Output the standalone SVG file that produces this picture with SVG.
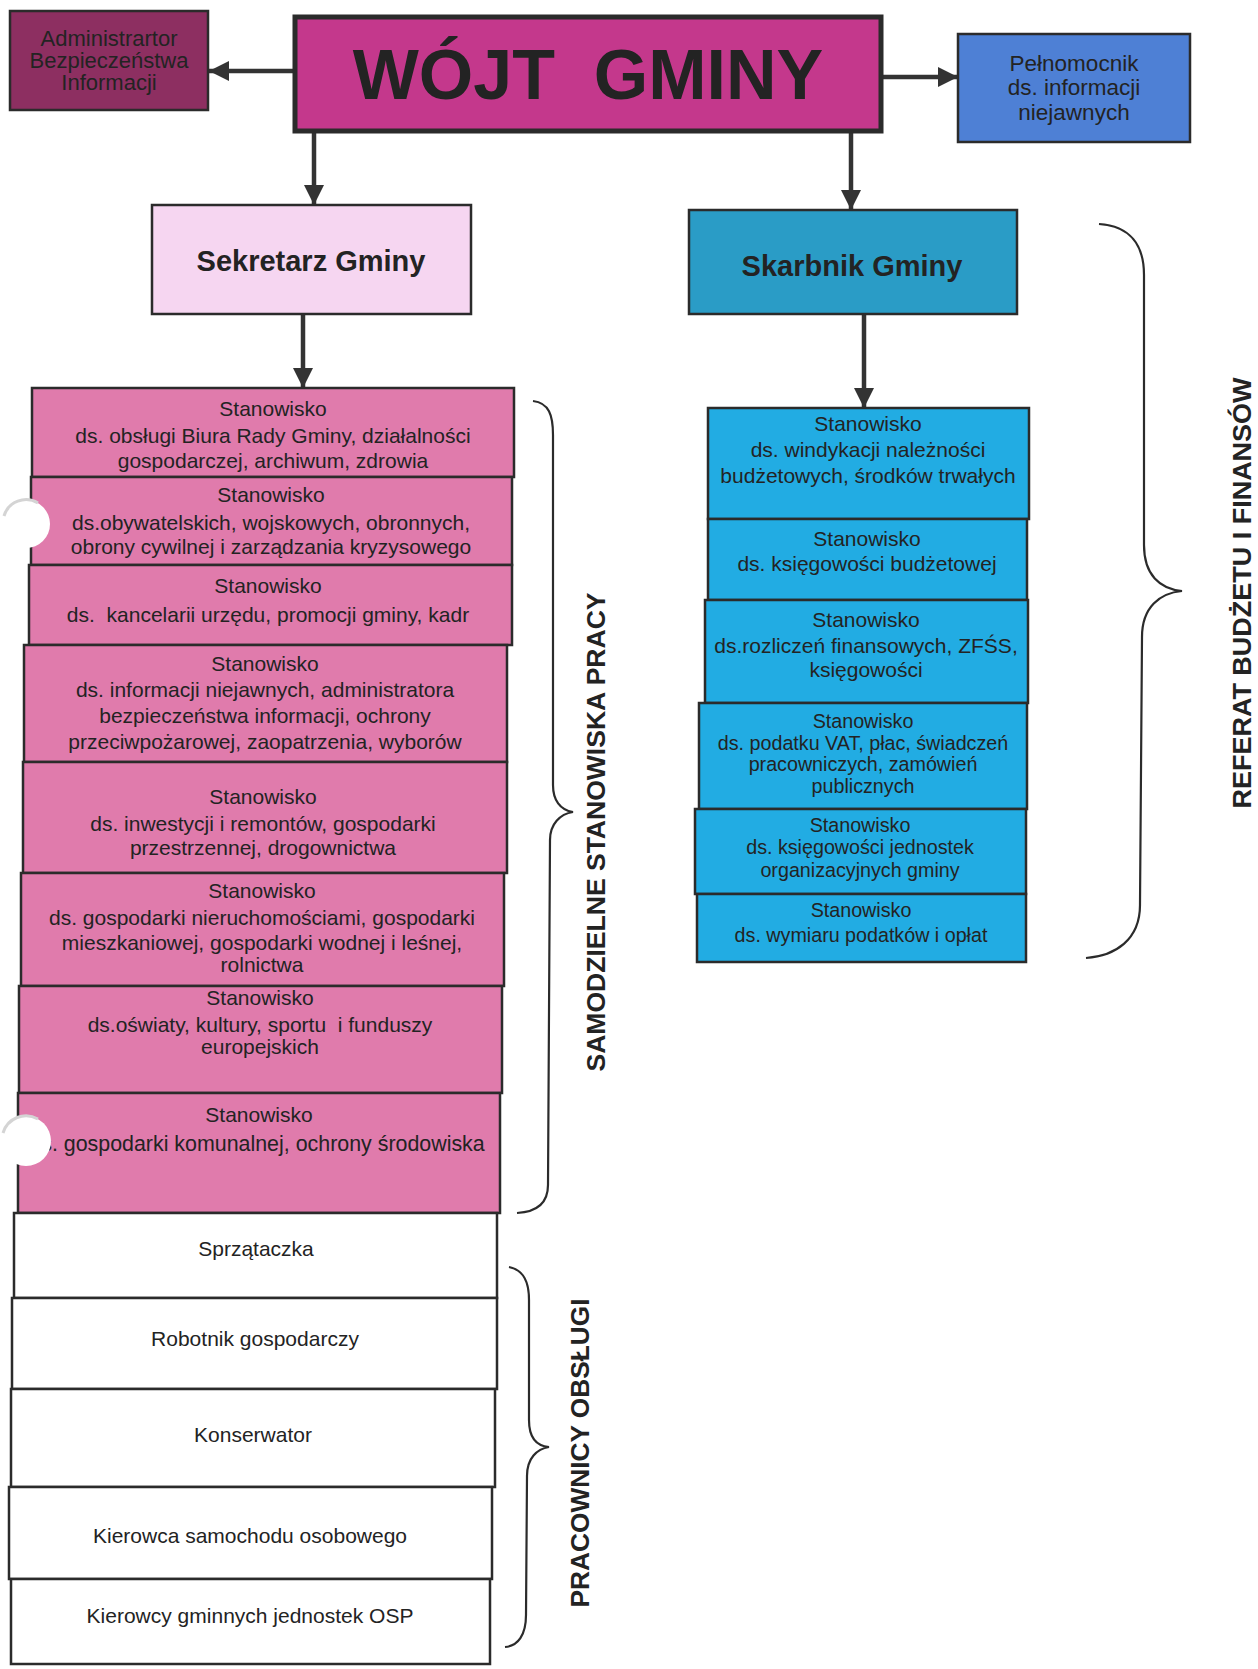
<svg xmlns="http://www.w3.org/2000/svg" width="1258" height="1669" viewBox="0 0 1258 1669">
<style>
.bx{stroke:#2b2b2b;stroke-width:2.5}
.t{font-family:"Liberation Sans",Arial,sans-serif;fill:#232323;text-anchor:middle;white-space:pre}
.p{font-size:21px}
.s{font-size:19.7px}
.w{font-size:21px}
.b{font-weight:bold}
.pink{fill:#E07BAC}
.blue{fill:#22ACE3}
.white{fill:#ffffff}
.conn{stroke:#333;stroke-width:4.5;fill:none}
.brace{stroke:#2b2b2b;stroke-width:2.2;fill:none}
.hole{fill:#ffffff;stroke:none}
.shade{fill:none;stroke:#d4d4d4;stroke-width:3}
</style>
<defs>
<marker id="ah" viewBox="0 0 20 20" markerWidth="20" markerHeight="20" refX="20" refY="10" orient="auto" markerUnits="userSpaceOnUse">
<path d="M0,0 L20,10 L0,20 z" fill="#333"/>
</marker>
</defs>
<rect width="1258" height="1669" fill="#ffffff"/>

<g id="connectors">
<line class="conn" x1="295" y1="71" x2="209" y2="71" marker-end="url(#ah)"/>
<line class="conn" x1="881" y1="77" x2="958" y2="77" marker-end="url(#ah)"/>
<line class="conn" x1="314" y1="133" x2="314" y2="205" marker-end="url(#ah)"/>
<line class="conn" x1="851" y1="133" x2="851" y2="210" marker-end="url(#ah)"/>
<line class="conn" x1="303" y1="314" x2="303" y2="388" marker-end="url(#ah)"/>
<line class="conn" x1="864" y1="314" x2="864" y2="408" marker-end="url(#ah)"/>
</g>

<g id="wojt">
<rect class="bx" x="295" y="17" width="586" height="114" fill="#C4388C" style="stroke-width:5"/>
<text class="t b" x="588" y="99" style="font-size:70px">WÓJT  GMINY</text>
</g>
<g id="admin">
<rect class="bx" x="10" y="11" width="198" height="99" fill="#8D2F61"/>
<text class="t" x="109" y="46" style="font-size:22px">Administrartor</text>
<text class="t" x="109" y="68" style="font-size:22px">Bezpieczeństwa</text>
<text class="t" x="109" y="90" style="font-size:22px">Informacji</text>
</g>
<g id="pelnomocnik">
<rect class="bx" x="958" y="34" width="232" height="108" fill="#4E80D5"/>
<text class="t" x="1074" y="71" style="font-size:22.5px">Pełnomocnik</text>
<text class="t" x="1074" y="95" style="font-size:22.5px">ds. informacji</text>
<text class="t" x="1074" y="120" style="font-size:22.5px">niejawnych</text>
</g>
<g id="sekretarz">
<rect class="bx" x="152" y="205" width="319" height="109" fill="#F6D6F1"/>
<text class="t b" x="311" y="271" style="font-size:29px">Sekretarz Gminy</text>
</g>
<g id="skarbnik">
<rect class="bx" x="689" y="210" width="328" height="104" fill="#2A9CC6"/>
<text class="t b" x="852" y="276" style="font-size:29px">Skarbnik Gminy</text>
</g>

<g id="pink1">
<rect class="bx pink" x="32" y="388" width="482" height="89"/>
<text class="t p" x="273" y="416">Stanowisko</text>
<text class="t p" x="273" y="443">ds. obsługi Biura Rady Gminy, działalności</text>
<text class="t p" x="273" y="468">gospodarczej, archiwum, zdrowia</text>
</g>
<g id="pink2">
<rect class="bx pink" x="31" y="477" width="481" height="88"/>
<text class="t p" x="271" y="502">Stanowisko</text>
<text class="t p" x="271" y="530">ds.obywatelskich, wojskowych, obronnych,</text>
<text class="t p" x="271" y="554">obrony cywilnej i zarządzania kryzysowego</text>
</g>
<g id="pink3">
<rect class="bx pink" x="29" y="565" width="483" height="80"/>
<text class="t p" x="268" y="593">Stanowisko</text>
<text class="t p" x="268" y="622">ds.  kancelarii urzędu, promocji gminy, kadr</text>
</g>
<g id="pink4">
<rect class="bx pink" x="24" y="645" width="483" height="117"/>
<text class="t p" x="265" y="671">Stanowisko</text>
<text class="t p" x="265" y="697">ds. informacji niejawnych, administratora</text>
<text class="t p" x="265" y="723">bezpieczeństwa informacji, ochrony</text>
<text class="t p" x="265" y="749">przeciwpożarowej, zaopatrzenia, wyborów</text>
</g>
<g id="pink5">
<rect class="bx pink" x="23" y="762" width="484" height="111"/>
<text class="t p" x="263" y="804">Stanowisko</text>
<text class="t p" x="263" y="831">ds. inwestycji i remontów, gospodarki</text>
<text class="t p" x="263" y="855">przestrzennej, drogownictwa</text>
</g>
<g id="pink6">
<rect class="bx pink" x="21" y="873" width="483" height="113"/>
<text class="t p" x="262" y="898">Stanowisko</text>
<text class="t p" x="262" y="925">ds. gospodarki nieruchomościami, gospodarki</text>
<text class="t p" x="262" y="950">mieszkaniowej, gospodarki wodnej i leśnej,</text>
<text class="t p" x="262" y="972">rolnictwa</text>
</g>
<g id="pink7">
<rect class="bx pink" x="19" y="986" width="483" height="107"/>
<text class="t p" x="260" y="1005">Stanowisko</text>
<text class="t p" x="260" y="1032">ds.oświaty, kultury, sportu  i funduszy</text>
<text class="t p" x="260" y="1054">europejskich</text>
</g>
<g id="pink8">
<rect class="bx pink" x="18" y="1093" width="482" height="120"/>
<text class="t p" x="259" y="1122">Stanowisko</text>
<text class="t" x="257" y="1151" style="font-size:21.4px">ds. gospodarki komunalnej, ochrony środowiska</text>
</g>
<g id="white1">
<rect class="bx white" x="14" y="1213" width="483" height="85"/>
<text class="t w" x="256" y="1256">Sprzątaczka</text>
</g>
<g id="white2">
<rect class="bx white" x="12" y="1298" width="485" height="91"/>
<text class="t w" x="255" y="1346">Robotnik gospodarczy</text>
</g>
<g id="white3">
<rect class="bx white" x="11" y="1389" width="484" height="98"/>
<text class="t w" x="253" y="1442">Konserwator</text>
</g>
<g id="white4">
<rect class="bx white" x="9" y="1487" width="483" height="92"/>
<text class="t w" x="250" y="1543">Kierowca samochodu osobowego</text>
</g>
<g id="white5">
<rect class="bx white" x="11" y="1579" width="479" height="85"/>
<text class="t w" x="250" y="1623">Kierowcy gminnych jednostek OSP</text>
</g>

<g id="blue1">
<rect class="bx blue" x="708" y="408" width="321" height="111"/>
<text class="t p" x="868" y="431">Stanowisko</text>
<text class="t p" x="868" y="457">ds. windykacji należności</text>
<text class="t p" x="868" y="483">budżetowych, środków trwałych</text>
</g>
<g id="blue2">
<rect class="bx blue" x="708" y="519" width="319" height="81"/>
<text class="t p" x="867" y="546">Stanowisko</text>
<text class="t p" x="867" y="571">ds. księgowości budżetowej</text>
</g>
<g id="blue3">
<rect class="bx blue" x="705" y="600" width="323" height="103"/>
<text class="t p" x="866" y="627">Stanowisko</text>
<text class="t p" x="866" y="653">ds.rozliczeń finansowych, ZFŚS,</text>
<text class="t p" x="866" y="677">księgowości</text>
</g>
<g id="blue4">
<rect class="bx blue" x="699" y="703" width="328" height="106"/>
<text class="t s" x="863" y="728">Stanowisko</text>
<text class="t s" x="863" y="750">ds. podatku VAT, płac, świadczeń</text>
<text class="t s" x="863" y="771">pracowniczych, zamówień</text>
<text class="t s" x="863" y="793">publicznych</text>
</g>
<g id="blue5">
<rect class="bx blue" x="695" y="809" width="331" height="85"/>
<text class="t s" x="860" y="832">Stanowisko</text>
<text class="t s" x="860" y="854">ds. księgowości jednostek</text>
<text class="t s" x="860" y="877">organizacyjnych gminy</text>
</g>
<g id="blue6">
<rect class="bx blue" x="697" y="894" width="329" height="68"/>
<text class="t s" x="861" y="917">Stanowisko</text>
<text class="t s" x="861" y="942">ds. wymiaru podatków i opłat</text>
</g>

<g id="braces">
<path class="brace" d="M533,401 C549,403 553,415 553,435 L553,785 C553,800 560,810 573,812 C560,814 550,824 550,840 L548,1185 C548,1205 535,1212 517,1213"/>
<path class="brace" d="M1099,224 C1130,226 1144,245 1144,275 L1144,545 C1144,575 1160,589 1182,591 C1160,593 1142,607 1142,637 L1140,905 C1140,940 1115,956 1086,958"/>
<path class="brace" d="M509,1267 C524,1270 529,1282 529,1300 L529,1420 C529,1438 537,1446 549,1447 C537,1449 527,1458 527,1476 L526,1615 C526,1635 518,1646 505,1647"/>
</g>

<g id="labels">
<text class="t b" transform="translate(605,832) rotate(-90)" style="font-size:26px" textLength="479" lengthAdjust="spacingAndGlyphs">SAMODZIELNE STANOWISKA PRACY</text>
<text class="t b" transform="translate(1251,593) rotate(-90)" style="font-size:26px" textLength="431" lengthAdjust="spacingAndGlyphs">REFERAT BUDŻETU I FINANSÓW</text>
<text class="t b" transform="translate(589,1453) rotate(-90)" style="font-size:26px" textLength="309" lengthAdjust="spacingAndGlyphs">PRACOWNICY OBSŁUGI</text>
</g>

<g id="punch-holes">
<circle class="hole" cx="26" cy="524" r="24"/>
<path class="shade" d="M4,516 A23,23 0 0 1 38,503"/>
<circle class="hole" cx="26" cy="1141" r="25"/>
<path class="shade" d="M3,1133 A24,24 0 0 1 38,1119"/>
</g>
</svg>
